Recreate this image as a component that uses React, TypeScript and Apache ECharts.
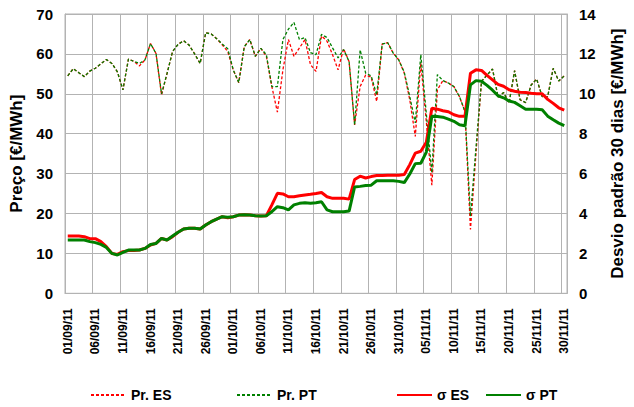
import React, { useEffect, useRef } from "react";
import * as echarts from "echarts";

const startDate = { day: 1, month: 9, year: 11 };
const monthLengths: Record<number, number> = { 9: 30, 10: 31, 11: 30 };

function buildDates(n: number): string[] {
  const out: string[] = [];
  let d = startDate.day;
  let m = startDate.month;
  for (let i = 0; i < n; i++) {
    out.push(`${String(d).padStart(2, "0")}/${String(m).padStart(2, "0")}/${startDate.year}`);
    d++;
    if (d > monthLengths[m]) {
      d = 1;
      m++;
    }
  }
  return out;
}

const priceES = [
  54.5, 56.3, 55.3, 54.3, 55.7, 56.4, 57.5, 58.6, 57.6, 55.5,
  51.0, 58.7, 58.1, 57.0, 58.5, 62.6, 60.1, 49.7, 55.1, 60.6,
  62.4, 63.3, 62.2, 60.0, 57.6, 65.3, 65.0, 63.8, 62.3, 60.6,
  56.0, 52.8, 61.8, 63.6, 59.4, 61.4, 59.4, 51.8, 45.4, 56.0,
  63.6, 59.4, 61.5, 63.6, 57.3, 55.6, 64.5, 63.2, 59.8, 56.0,
  61.3, 58.1, 42.2, 51.8, 54.7, 54.2, 48.1, 62.5, 62.8, 60.2,
  58.5, 55.2, 48.5, 39.3, 57.7, 43.0, 27.1, 51.0, 53.3, 52.7,
  51.8, 49.3, 45.6, 16.0, 35.0, 53.1, 54.7, 56.2, 49.2, 50.3,
  47.7, 55.8, 48.5, 47.8, 52.2, 53.7, 49.3, 49.3, 56.4, 53.2,
  54.5,
];

const pricePT = [
  54.5, 56.3, 55.3, 54.3, 55.7, 56.4, 57.5, 58.6, 57.6, 55.5,
  51.0, 58.7, 58.1, 57.6, 58.5, 62.6, 60.1, 50.0, 55.1, 60.6,
  62.4, 63.3, 62.2, 60.0, 57.6, 65.3, 65.0, 63.8, 62.5, 61.3,
  56.0, 52.8, 61.8, 63.6, 59.4, 61.4, 59.8, 51.8, 51.8, 63.6,
  66.2, 67.9, 63.6, 64.1, 60.3, 59.8, 64.9, 64.1, 61.5, 59.0,
  61.1, 58.1, 42.2, 61.0, 55.2, 54.5, 49.7, 62.5, 62.8, 60.2,
  58.5, 55.4, 49.3, 42.7, 59.8, 45.0, 30.2, 54.8, 53.3, 52.7,
  51.8, 49.3, 45.6, 19.3, 36.5, 53.1, 54.7, 56.2, 49.2, 50.3,
  47.7, 55.8, 48.5, 47.8, 52.2, 53.7, 49.3, 49.3, 56.4, 53.2,
  54.5,
];

const sigmaES = [
  2.87, 2.87, 2.87, 2.84, 2.74, 2.74, 2.59, 2.34, 2.0, 1.95,
  2.09, 2.14, 2.14, 2.17, 2.25, 2.42, 2.5, 2.75, 2.67, 2.84,
  3.06, 3.22, 3.26, 3.26, 3.22, 3.42, 3.59, 3.72, 3.84, 3.78,
  3.84, 3.92, 3.94, 3.92, 3.89, 3.87, 3.89, 4.43, 5.01, 4.98,
  4.84, 4.84, 4.89, 4.93, 4.96, 5.0, 5.05, 4.84, 4.76, 4.76,
  4.76, 4.72, 5.7, 5.87, 5.78, 5.85, 5.9, 5.9, 5.92, 5.92,
  5.92, 5.95, 6.45, 7.03, 7.12, 7.57, 9.28, 9.23, 9.15, 9.1,
  8.95, 8.87, 8.87, 11.03, 11.2, 11.17, 10.92, 10.7, 10.47, 10.38,
  10.2, 10.13, 10.08, 10.07, 10.03, 10.0, 10.0, 9.72, 9.52, 9.3,
  9.18,
];

const sigmaPT = [
  2.67, 2.67, 2.67, 2.67, 2.59, 2.54, 2.45, 2.3, 2.0, 1.92,
  2.05, 2.17, 2.17, 2.17, 2.25, 2.45, 2.5, 2.75, 2.67, 2.87,
  3.06, 3.22, 3.26, 3.26, 3.22, 3.42, 3.59, 3.72, 3.84, 3.81,
  3.84, 3.92, 3.94, 3.92, 3.89, 3.87, 3.89, 4.09, 4.34, 4.29,
  4.18, 4.43, 4.51, 4.54, 4.51, 4.54, 4.59, 4.18, 4.09, 4.09,
  4.09, 4.12, 5.33, 5.36, 5.4, 5.42, 5.64, 5.64, 5.64, 5.64,
  5.61, 5.55, 5.98, 6.5, 6.52, 7.08, 8.87, 8.86, 8.83, 8.73,
  8.62, 8.45, 8.4, 10.45, 10.66, 10.63, 10.42, 10.18, 9.9, 9.8,
  9.64, 9.57, 9.4, 9.23, 9.23, 9.23, 9.2, 8.88, 8.7, 8.53,
  8.4,
];

const dates = buildDates(priceES.length);

const seriesNames = ["Pr. ES", "Pr. PT", "σ ES", "σ PT"];
const leftAxisName = "Preço [€/MWh]";
const rightAxisName = "Desvio padrão 30 dias [€/MWh]";

const FONT = "'Liberation Sans', Arial, Helvetica, sans-serif";
const RED = "#ff0000";
const GREEN = "#008000";
const GRID = "#b3b3b3";

export default function App() {
  const ref = useRef<HTMLDivElement>(null);

  useEffect(() => {
    document.body.style.margin = "0";
    if (!ref.current) return;
    const chart = echarts.init(ref.current, undefined, { renderer: "svg" });

    const legendBase = {
      top: 388,
      itemWidth: 35,
      itemHeight: 12,
      padding: 0,
      itemStyle: { opacity: 0 },
      textStyle: { fontFamily: FONT, fontSize: 14, fontWeight: "bold", color: "#000" },
      selectedMode: false,
    };

    chart.setOption({
      animation: false,
      backgroundColor: "#fff",
      textStyle: { fontFamily: FONT },
      grid: {
        left: 64.5,
        right: 60,
        top: 14,
        bottom: 113.7,
        show: true,
        borderColor: GRID,
        borderWidth: 1,
        containLabel: false,
      },
      legend: [
        { ...legendBase, left: 90, data: [seriesNames[0]] },
        { ...legendBase, left: 236, data: [seriesNames[1]] },
        { ...legendBase, left: 396, data: [seriesNames[2]] },
        { ...legendBase, left: 485, data: [seriesNames[3]] },
      ],
      xAxis: {
        type: "category",
        data: dates,
        boundaryGap: true,
        axisLine: { show: true, lineStyle: { color: GRID, width: 1 } },
        axisTick: { show: false, interval: 4 },
        splitLine: { show: true, interval: 4, lineStyle: { color: GRID, width: 1 } },
        axisLabel: {
          interval: 4,
          rotate: 90,
          margin: 15,
          color: "#000",
          fontFamily: FONT,
          fontSize: 12,
          fontWeight: "bold",
        },
      },
      yAxis: [
        {
          type: "value",
          min: 0,
          max: 70,
          interval: 10,
          name: leftAxisName,
          nameLocation: "middle",
          nameRotate: 90,
          nameGap: 40,
          nameTextStyle: { fontFamily: FONT, fontSize: 17, fontWeight: "bold", color: "#000" },
          axisLine: { show: true, lineStyle: { color: GRID, width: 1 } },
          axisTick: { show: false },
          splitLine: { show: true, lineStyle: { color: GRID, width: 1 } },
          axisLabel: { margin: 12, color: "#000", fontFamily: FONT, fontSize: 15, fontWeight: "bold" },
        },
        {
          type: "value",
          min: 0,
          max: 14,
          interval: 2,
          position: "right",
          name: rightAxisName,
          nameLocation: "middle",
          nameRotate: 90,
          nameGap: 42,
          nameTextStyle: { fontFamily: FONT, fontSize: 17, fontWeight: "bold", color: "#000" },
          axisLine: { show: true, lineStyle: { color: GRID, width: 1 } },
          axisTick: { show: false },
          splitLine: { show: false },
          axisLabel: { margin: 12, color: "#000", fontFamily: FONT, fontSize: 15, fontWeight: "bold" },
        },
      ],
      series: [
        {
          name: seriesNames[0],
          type: "line",
          yAxisIndex: 0,
          data: priceES,
          symbol: "none",
          lineStyle: { color: RED, width: 1.3, type: [3, 2] },
          itemStyle: { color: RED },
        },
        {
          name: seriesNames[1],
          type: "line",
          yAxisIndex: 0,
          data: pricePT,
          symbol: "none",
          lineStyle: { color: GREEN, width: 1.3, type: [3, 2] },
          itemStyle: { color: GREEN },
        },
        {
          name: seriesNames[2],
          type: "line",
          yAxisIndex: 1,
          data: sigmaES,
          symbol: "none",
          lineStyle: { color: RED, width: 3 },
          itemStyle: { color: RED },
        },
        {
          name: seriesNames[3],
          type: "line",
          yAxisIndex: 1,
          data: sigmaPT,
          symbol: "none",
          lineStyle: { color: GREEN, width: 3 },
          itemStyle: { color: GREEN },
        },
      ],
    });

    return () => {
      chart.dispose();
    };
  }, []);

  return <div ref={ref} style={{ width: 634, height: 407 }} />;
}
